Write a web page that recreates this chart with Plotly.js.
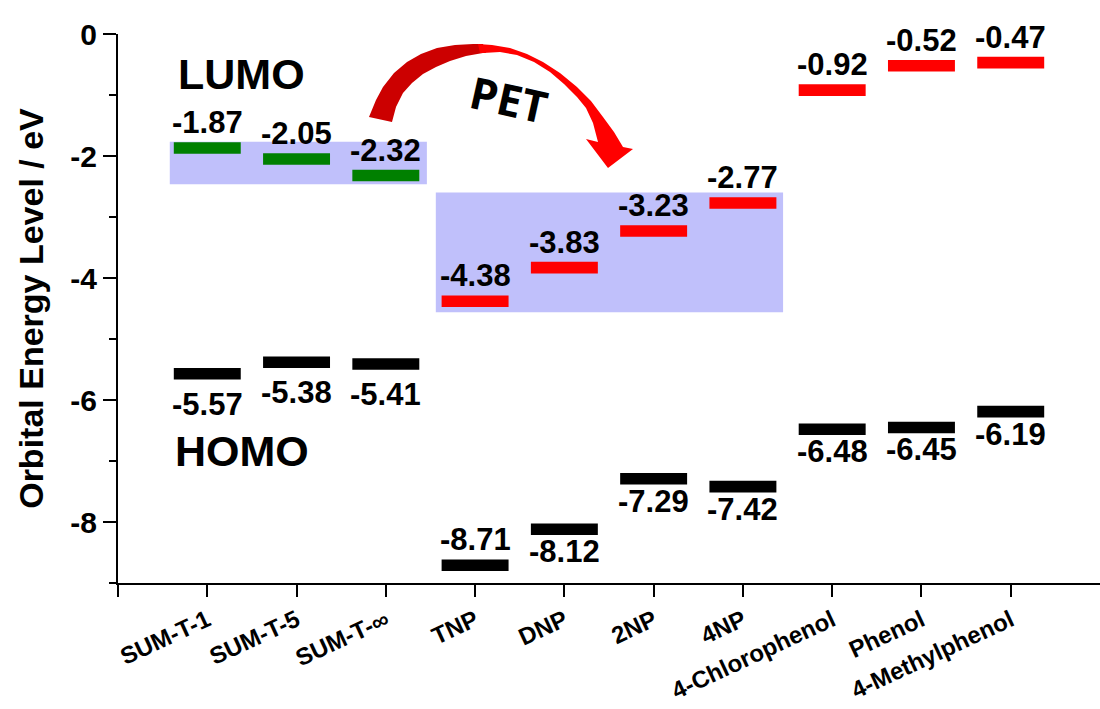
<!DOCTYPE html>
<html><head><meta charset="utf-8">
<script src="https://cdn.plot.ly/plotly-3.0.1.min.js"></script>
<style>html,body{margin:0;padding:0;background:#fff}#chart{width:1100px;height:709px}</style>
</head><body><div id="chart"></div>
<script>
// ---- data ----
const categories = ['SUM-T-1','SUM-T-5','SUM-T-\u221E','TNP','DNP','2NP','4NP','4-Chlorophenol','Phenol','4-Methylphenol'];
const lumo = [-1.87,-2.05,-2.32,-4.38,-3.83,-3.23,-2.77,-0.92,-0.52,-0.47];
const homo = [-5.57,-5.38,-5.41,-8.71,-8.12,-7.29,-7.42,-6.48,-6.45,-6.19];
const yTickVals = [0,-2,-4,-6,-8];
const yTickText = ['0','-2','-4','-6','-8'];

// ---- styling / placement ----
const FONT = 'Liberation Sans, Arial, sans-serif';
const BAR_W = 0.75, BAR_H = 0.19;
const sumCount = 3; // first three are SUM-T materials (green LUMO)
const homoPlacement = ['belowFar','belowFar','belowFar','above','below','below','below','below','below','below'];

const idx = categories.map((_, i) => i);
function barTrace(ix, vals, color){
  return {type:'bar', x: ix, y: ix.map(()=>BAR_H), base: ix.map(i=>vals[i]-BAR_H/2),
    width: BAR_W, marker:{color: color, line:{width:0}}, hoverinfo:'skip', showlegend:false};
}
const traces = [
  barTrace(idx.slice(0,sumCount), lumo, '#008000'),
  barTrace(idx.slice(sumCount), lumo, '#ff0000'),
  barTrace(idx, homo, '#000000')
];

const valFont = {family: FONT, size: 31, color:'#000', weight:'bold'};
const annotations = [];
idx.forEach(i => {
  annotations.push({x:i, y:lumo[i], xref:'x', yref:'y', text: lumo[i].toFixed(2), showarrow:false,
    xanchor:'center', yanchor:'bottom', yshift:6, font: valFont});
  const p = homoPlacement[i];
  const a = {x:i, y:homo[i], xref:'x', yref:'y', text: homo[i].toFixed(2), showarrow:false, xanchor:'center', font: valFont};
  if (p === 'above') { a.yanchor='bottom'; a.yshift=6; }
  else if (p === 'below') { a.yanchor='top'; a.yshift=-3; }
  else { a.yanchor='top'; a.yshift=-11; }
  annotations.push(a);
});

// plot-area pixel helpers for decorations
const L=118, T=34, PW=982, PH=549;
const px = x => (x-L)/PW;
const py = y => 1-(y-T)/PH;

annotations.push({xref:'paper', yref:'paper', x:px(241), y:py(73.5), xanchor:'center', yanchor:'middle', text:'LUMO', showarrow:false,
  font:{family:FONT, size:43, color:'#000', weight:'bold'}});
annotations.push({xref:'paper', yref:'paper', x:px(242), y:py(450.5), xanchor:'center', yanchor:'middle', text:'HOMO', showarrow:false,
  font:{family:FONT, size:43, color:'#000', weight:'bold'}});
annotations.push({xref:'paper', yref:'paper', x:px(509), y:py(99), xanchor:'center', yanchor:'middle', text:'PET', showarrow:false, textangle:12.5,
  font:{family:'Open Sans, sans-serif', size:44, color:'#000', weight:'bold'}});

// curved arrow (decoration) in pixel coords
const outerL = [[369,117],[376,100],[383,87],[394,73],[407,62],[421,54],[437,48],[455,45],[473,44],[483,44]];
const innerL = [[486,53],[483,53],[466,56],[450,61],[436,67],[423,74],[412,83],[403,93],[396,107],[392,122]];
const outerR = [[478,44],[492,45],[510,48],[527,54],[543,62],[560,73],[577,87],[591,101],[603,117],[614,132],[623,147],
  [633,149],[608,168],[586,139],[598,142]];
const innerR = [[593,123],[586,108],[577,97],[564,84],[550,72],[534,62],[517,55],[500,52],[483,53],[480,53]];
function pathOf(pts){
  return 'M ' + pts.map(p => px(p[0]).toFixed(5)+','+py(p[1]).toFixed(5)).join(' L ') + ' Z';
}
const shapes = [
  {type:'rect', xref:'x', yref:'y', x0:-0.42, x1:2.46, y0:-1.766, y1:-2.464, fillcolor:'#c0c0fb', line:{width:0}, layer:'below'},
  {type:'rect', xref:'x', yref:'y', x0:2.56, x1:6.45, y0:-2.60, y1:-4.56, fillcolor:'#c0c0fb', line:{width:0}, layer:'below'},
  {type:'path', xref:'paper', yref:'paper', path: pathOf(outerL.concat(innerL)), fillcolor:'#cc0000', line:{width:0}},
  {type:'path', xref:'paper', yref:'paper', path: pathOf(outerR.concat(innerR)), fillcolor:'#ff0000', line:{width:0}}
];

const layout = {
  width:1100, height:709,
  margin:{l:L, r:0, t:T, b:126, pad:0},
  paper_bgcolor:'#fff', plot_bgcolor:'rgba(0,0,0,0)',
  barmode:'overlay', showlegend:false,
  font:{family:FONT, color:'#000'},
  xaxis:{type:'linear', range:[-1,10], tickmode:'array', tickvals:[-1].concat(idx), ticktext:[''].concat(categories),
    ticks:'outside', ticklen:12, tickwidth:2, tickcolor:'#000', showline:true, linewidth:2, linecolor:'#000',
    showgrid:false, zeroline:false, tickangle:-25, tickfont:{family:FONT, size:24, color:'#000', weight:'bold'}},
  yaxis:{range:[-9,0], tickmode:'array', tickvals:yTickVals, ticktext:yTickText,
    ticks:'outside', ticklen:13, tickwidth:2, tickcolor:'#000', showline:true, linewidth:2, linecolor:'#000',
    showgrid:false, zeroline:false, tickfont:{family:FONT, size:30, color:'#000', weight:'bold'},
    minor:{tickmode:'array', tickvals:[-1,-3,-5,-7,-9], ticks:'outside', ticklen:7, tickwidth:2, tickcolor:'#000', showgrid:false},
    title:{text:'Orbital Energy Level / eV', standoff:16, font:{family:FONT, size:34, color:'#000', weight:'bold'}}},
  annotations: annotations,
  shapes: shapes
};
Plotly.newPlot('chart', traces, layout, {displayModeBar:false, staticPlot:true});
</script></body></html>
